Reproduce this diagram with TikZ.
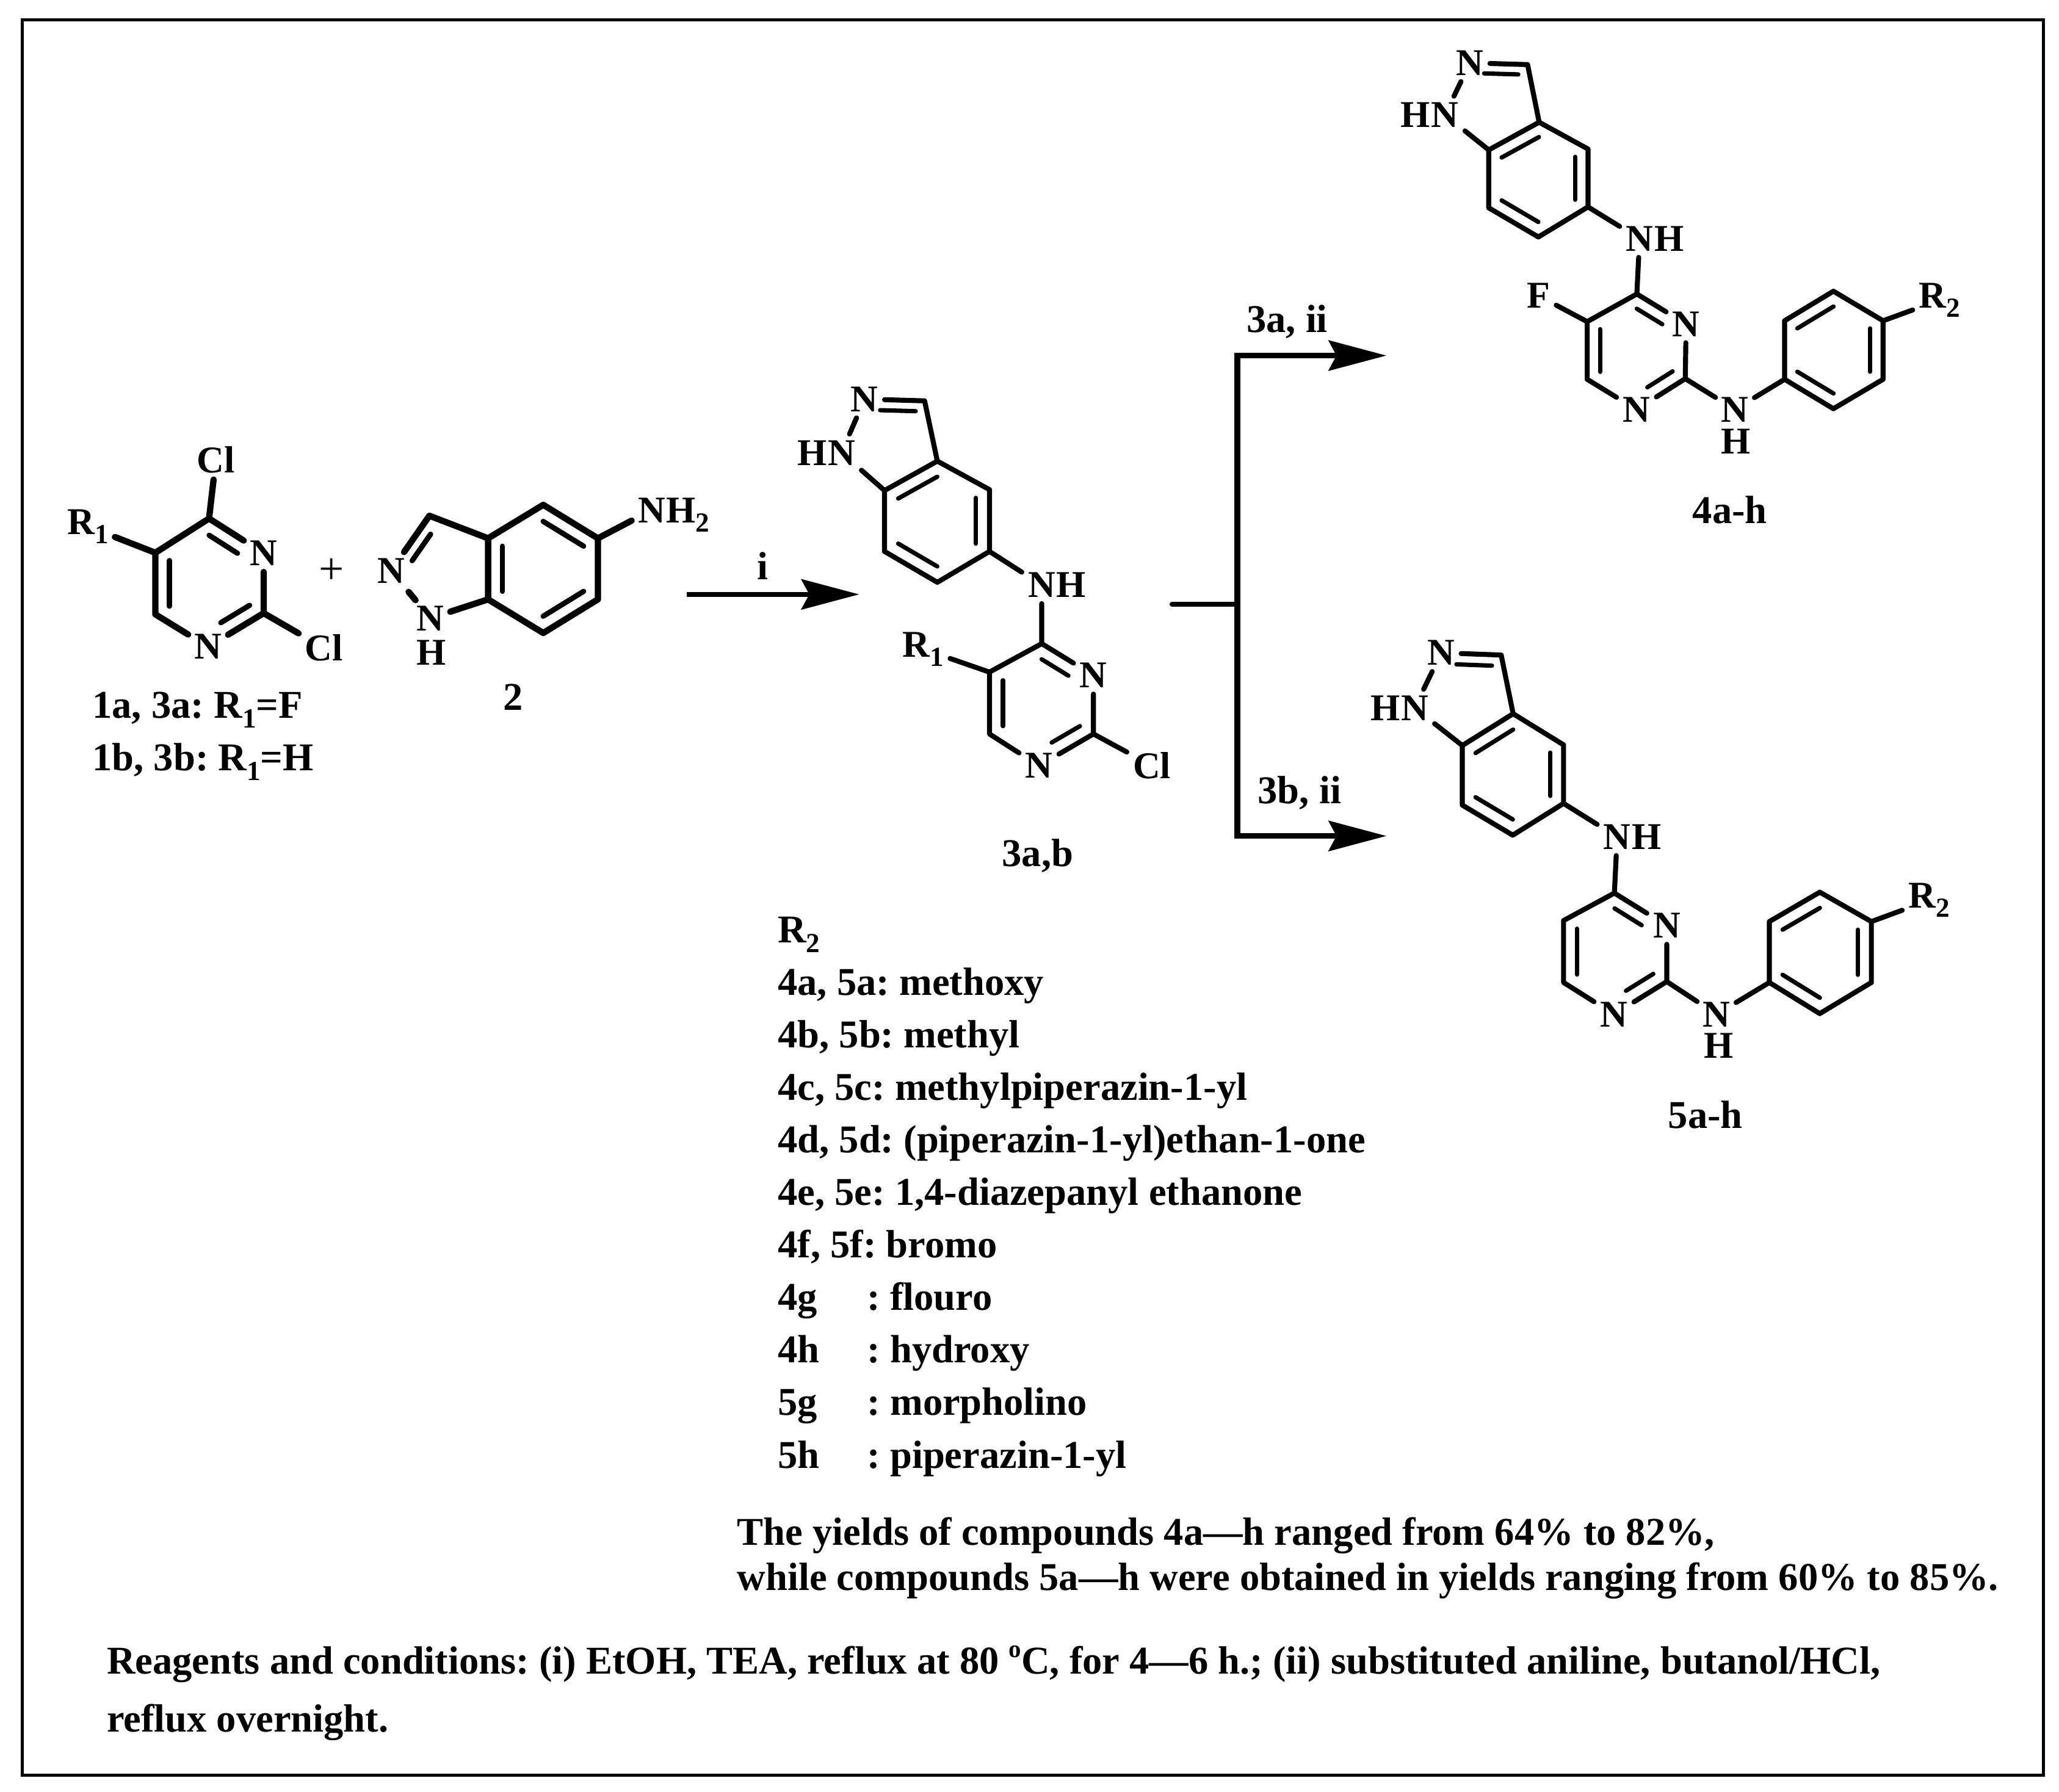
\documentclass[tikz,border=0pt]{standalone}
\usepackage{fontspec}
\setmainfont{Liberation Serif}
\usetikzlibrary{calc,arrows.meta}
\newcommand\lowtxt[1]{\raisebox{-0.24em}{\fontsize{10.5}{10.5}\selectfont #1}}
\newcommand\dbl[5]{\draw[bondi] ($($(#1)!.74!(#2)$)!#4!($(#1)!.74!(#3)$)$) -- ($($(#1)!.74!(#2)$)!#5!($(#1)!.74!(#3)$)$);}
\tikzset{
  atom/.style={font=\fontsize{14.4}{14.4}\selectfont\bfseries,inner sep=2.2pt,text=black},
  atomh/.style={atom,inner sep=0pt},
  atomt/.style={atom,inner sep=1pt},
  txt/.style={font=\fontsize{15}{15}\selectfont\bfseries\frenchspacing,inner sep=0pt,anchor=base west,text=black},
  lbl/.style={font=\fontsize{15}{15}\selectfont\bfseries\frenchspacing,inner sep=0pt,text=black},
  bond/.style={line width=1.9pt,line cap=round,line join=round,black},
  bondi/.style={line width=1.65pt,line cap=round,black},
  flow/.style={line width=2pt,black,-{Stealth[length=22pt,width=11.5pt,inset=3pt]}},
}
\begin{document}
\begin{tikzpicture}[x=0.5pt,y=-0.5pt]
\useasboundingbox (0,0) rectangle (1568,1364.4);
\fill[white] (0,0) rectangle (1568,1364.4);
\draw[line width=1.2pt,black] (17,15) rectangle (1556,1352);

\begin{scope}[bond/.style={line width=2.4pt,line cap=round,line join=round,black},
              bondi/.style={line width=2pt,line cap=round,black}]
% ---- compound 1
\coordinate (ac4) at (159.2,394.9);
\coordinate (ac5) at (118.3,421);
\coordinate (ac6) at (118.3,467.9);
\coordinate (ac2) at (200.8,467);
\coordinate (ar) at (159.5,444);
\node[atom] (an1) at (158.5,492.6) {N};
\node[atom] (an3) at (200.8,421.4) {N};
\node[atom] (acl1) at (164.4,350.3) {Cl};
\node[atom] (acl2) at (246.6,493.5) {Cl};
\node[atom,anchor=base west] (ar1) at (46.6,407) {R\lowtxt{1}};
\draw[bond] (ac4)--(an3) (an3)--(ac2) (ac2)--(an1) (an1)--(ac6)--(ac5)--(ac4);
\draw[bond] (ac4)--(acl1) (ac2)--(acl2) (ac5)--(ar1);
\dbl{ar}{ac4}{an3}{0}{.7}
\dbl{ar}{ac5}{ac6}{0}{1}
\dbl{ar}{ac2}{an1}{0}{.7}

\node[inner sep=0pt,font=\fontsize{17}{17}\selectfont] (plus) at (252.5,435) {+};

% ---- compound 2
\coordinate (bc3a) at (371.7,410);
\coordinate (bc4) at (413.7,384.5);
\coordinate (bc5) at (455.3,410);
\coordinate (bc6) at (455.3,456.5);
\coordinate (bc7) at (413.7,482.1);
\coordinate (bc7a) at (371.7,456.5);
\coordinate (bc3) at (327,392.8);
\coordinate (br) at (413.5,433);
\coordinate (bp) at (338.8,435);
\node[atom] (bn2) at (297.8,434.7) {N};
\node[atomt] (bn1) at (327.8,470.8) {N};
\node[atomh] (bh) at (328.7,497) {H};
\node[atom,anchor=base west] (bnh) at (481,398) {N};
\node[atomh,anchor=base west,xshift=-2.2pt] (bh2) at (bnh.base east) {H\lowtxt{2}};
\draw[bond] (bc3a)--(bc4)--(bc5)--(bc6)--(bc7)--(bc7a)--cycle;
\draw[bond] (bc3a)--(bc3)--(bn2);
\draw[bond,shorten <=1.2pt,shorten >=1.2pt] (bn2)--(bn1);
\draw[bond,shorten <=1.2pt] (bn1)--(bc7a);
\draw[bond] (bc5)--(bnh);
\dbl{br}{bc7a}{bc3a}{0}{1}
\dbl{br}{bc4}{bc5}{0}{1}
\dbl{br}{bc6}{bc7}{0}{1}
\dbl{bp}{bc3}{bn2}{.1}{.75}
\end{scope}

\node[lbl] (lab2) at (391,531) {2};
\node[txt] (lab1a) at (70,547) {1a, 3a: R\lowtxt{1}=F};
\node[txt] (lab1b) at (70,587) {1b, 3b: R\lowtxt{1}=H};

% ---- arrow i
\coordinate (ia) at (523,452.7);
\coordinate (ib) at (654.3,452.7);
\draw[flow] (ia)--(ib);
\node[lbl] (labi) at (581,431) {i};

% ---- compound 3
\coordinate (cc3) at (704.1,305.3);
\coordinate (cc3a) at (713.8,351.2);
\coordinate (cc4) at (753.5,372.9);
\coordinate (cc5) at (753.5,420);
\coordinate (cc6) at (713.8,443.5);
\coordinate (cc7) at (673.6,420);
\coordinate (cc7a) at (673.6,373.6);
\coordinate (cr) at (713.6,397);
\coordinate (cp) at (678,335.6);
\node[atom] (cn2) at (658.4,304) {N};
\node[atom] (cn1) at (640.8,344.8) {N};
\node[atomh,anchor=east,xshift=2.2pt] (chn) at (cn1.west) {H};
\node[atom] (cnh) at (793.3,445.5) {N};
\node[atomh,anchor=west,xshift=-2.2pt] (cnhh) at (cnh.east) {H};
\coordinate (dc4) at (793.3,490.2);
\coordinate (dc5) at (753.5,511.9);
\coordinate (dc6) at (753.5,559);
\coordinate (dc2) at (832.7,559);
\coordinate (dr) at (793,536);
\node[atom] (dn1) at (791.2,583.2) {N};
\node[atom] (dn3) at (832.7,514.4) {N};
\node[atom] (dcl) at (877.3,583.2) {Cl};
\node[atom,anchor=base west] (dr1) at (682.6,500.4) {R\lowtxt{1}};
\draw[bond] (cc3a)--(cc4)--(cc5)--(cc6)--(cc7)--(cc7a)--cycle;
\draw[bond] (cc3a)--(cc3)--(cn2) (cn2)--(cn1) (cn1)--(cc7a) (cc5)--(cnh) (cnh)--(dc4);
\draw[bond] (dc4)--(dn3) (dn3)--(dc2) (dc2)--(dn1) (dn1)--(dc6)--(dc5)--(dc4);
\draw[bond] (dc5)--(dr1) (dc2)--(dcl);
\dbl{cr}{cc7a}{cc3a}{0}{1}
\dbl{cr}{cc4}{cc5}{0}{1}
\dbl{cr}{cc6}{cc7}{0}{1}
\dbl{cp}{cn2}{cc3}{.2}{1}
\dbl{dr}{dc4}{dn3}{0}{.7}
\dbl{dr}{dc5}{dc6}{0}{1}
\dbl{dr}{dc2}{dn1}{0}{.7}
\node[lbl] (lab3) at (790.2,652) {3a,b};

% ---- branch
\coordinate (st) at (892.6,460.2);
\coordinate (jn) at (942.2,460.2);
\coordinate (jt) at (942.2,270.8);
\coordinate (jb) at (942.2,636.7);
\coordinate (at) at (1055.8,270.8);
\coordinate (ab) at (1055.8,636.7);
\draw[line width=2pt,line cap=round,black] (st)--(jn);
\draw[line width=2.2pt,black] ($(jt)+(0,-2)$)--($(jb)+(0,2)$);
\draw[flow] (jt)--(at);
\draw[flow] (jb)--(ab);
\node[lbl] (labt) at (980.2,245.2) {3a, ii};
\node[lbl] (labb) at (989.6,604) {3b, ii};

% ---- compound 4
\coordinate (ec3) at (1163.3,49.2);
\coordinate (ec3a) at (1172.1,93.1);
\coordinate (ec4) at (1209.3,113.5);
\coordinate (ec5) at (1209.3,157.6);
\coordinate (ec6) at (1171.5,180.5);
\coordinate (ec7) at (1133.7,158.3);
\coordinate (ec7a) at (1133.7,114.2);
\coordinate (er) at (1171.5,136.5);
\coordinate (ep) at (1136,78);
\node[atom] (en2) at (1119.4,47.9) {N};
\node[atom] (en1) at (1100.4,87.5) {N};
\node[atomh,anchor=east,xshift=2.2pt] (ehn) at (en1.west) {H};
\node[atom] (enh) at (1248.6,181.8) {N};
\node[atomh,anchor=west,xshift=-2.2pt] (enhh) at (enh.east) {H};
\coordinate (fc4) at (1246.5,223.9);
\coordinate (fc5) at (1208.7,245);
\coordinate (fc6) at (1208.7,288.9);
\coordinate (fc2) at (1283.4,288.4);
\coordinate (fr) at (1246.3,267);
\node[atom] (fn1) at (1246.2,311.9) {N};
\node[atom] (fn3) at (1284,246.8) {N};
\node[atom] (ff) at (1171.5,225.2) {F};
\node[atomt] (fnh) at (1321.2,311.9) {N};
\node[atomh] (fnhh) at (1322.1,336) {H};
\coordinate (gc1) at (1359,288.9);
\coordinate (gc2) at (1359,244.3);
\coordinate (gc3) at (1396.2,221.8);
\coordinate (gc4) at (1434,244.3);
\coordinate (gc5) at (1434,288.9);
\coordinate (gc6) at (1396.2,311.3);
\coordinate (gr) at (1396.4,266.6);
\node[atom,anchor=base west] (gr2) at (1456.6,234.6) {R\lowtxt{2}};
\draw[bond] (ec3a)--(ec4)--(ec5)--(ec6)--(ec7)--(ec7a)--cycle;
\draw[bond] (ec3a)--(ec3)--(en2) (en2)--(en1) (en1)--(ec7a) (ec5)--(enh) (enh)--(fc4);
\draw[bond] (fc4)--(fn3) (fn3)--(fc2) (fc2)--(fn1) (fn1)--(fc6)--(fc5)--(fc4);
\draw[bond] (fc5)--(ff);
\draw[bond,shorten >=1.2pt] (fc2)--(fnh);
\draw[bond,shorten <=1.2pt] (fnh)--(gc1);
\draw[bond] (gc1)--(gc2)--(gc3)--(gc4)--(gc5)--(gc6)--cycle (gc4)--(gr2);
\dbl{er}{ec7a}{ec3a}{0}{1}
\dbl{er}{ec4}{ec5}{0}{1}
\dbl{er}{ec6}{ec7}{0}{1}
\dbl{ep}{en2}{ec3}{.2}{1}
\dbl{fr}{fc4}{fn3}{0}{.7}
\dbl{fr}{fc5}{fc6}{0}{1}
\dbl{fr}{fc2}{fn1}{0}{.7}
\dbl{gr}{gc2}{gc3}{0}{1}
\dbl{gr}{gc4}{gc5}{0}{1}
\dbl{gr}{gc6}{gc1}{0}{1}
\node[lbl] (lab4) at (1317.3,388.4) {4a-h};

% ---- compound 5
\coordinate (hc3) at (1143.2,498.9);
\coordinate (hc3a) at (1152.3,543.6);
\coordinate (hc4) at (1190.7,567.3);
\coordinate (hc5) at (1190.7,611.9);
\coordinate (hc6) at (1152,636.1);
\coordinate (hc7) at (1113.6,613.2);
\coordinate (hc7a) at (1113.6,567.8);
\coordinate (hr) at (1152.2,590);
\coordinate (hp) at (1116,530);
\node[atom] (hn2) at (1097.5,497.2) {N};
\node[atom] (hn1) at (1077.3,539.2) {N};
\node[atomh,anchor=east,xshift=2.2pt] (hhn) at (hn1.west) {H};
\node[atom] (hnh) at (1231.5,637.4) {N};
\node[atomh,anchor=west,xshift=-2.2pt] (hnhh) at (hnh.east) {H};
\coordinate (jc4) at (1229.4,680.2);
\coordinate (jc5) at (1190.7,701.1);
\coordinate (jc6) at (1190.7,748.3);
\coordinate (jc2) at (1269.3,747.6);
\coordinate (jr) at (1229.8,725);
\node[atom] (jn1) at (1229.1,772.5) {N};
\node[atom] (jn3) at (1269.3,705) {N};
\node[atomt] (jnh) at (1307.2,772.5) {N};
\node[atomh] (jnhh) at (1308.7,796.5) {H};
\coordinate (kc1) at (1347.4,748.3);
\coordinate (kc2) at (1347.4,701.9);
\coordinate (kc3) at (1385.8,679.5);
\coordinate (kc4) at (1425.1,701.9);
\coordinate (kc5) at (1425.1,748.3);
\coordinate (kc6) at (1385.8,772);
\coordinate (kr) at (1386.2,725.7);
\node[atom,anchor=base west] (kr2) at (1448.6,691.7) {R\lowtxt{2}};
\draw[bond] (hc3a)--(hc4)--(hc5)--(hc6)--(hc7)--(hc7a)--cycle;
\draw[bond] (hc3a)--(hc3)--(hn2) (hn2)--(hn1) (hn1)--(hc7a) (hc5)--(hnh) (hnh)--(jc4);
\draw[bond] (jc4)--(jn3) (jn3)--(jc2) (jc2)--(jn1) (jn1)--(jc6)--(jc5)--(jc4);
\draw[bond,shorten >=1.2pt] (jc2)--(jnh);
\draw[bond,shorten <=1.2pt] (jnh)--(kc1);
\draw[bond] (kc1)--(kc2)--(kc3)--(kc4)--(kc5)--(kc6)--cycle (kc4)--(kr2);
\dbl{hr}{hc7a}{hc3a}{0}{1}
\dbl{hr}{hc4}{hc5}{0}{1}
\dbl{hr}{hc6}{hc7}{0}{1}
\dbl{hp}{hn2}{hc3}{.2}{1}
\dbl{jr}{jc4}{jn3}{0}{.7}
\dbl{jr}{jc5}{jc6}{0}{1}
\dbl{jr}{jc2}{jn1}{0}{.7}
\dbl{kr}{kc2}{kc3}{0}{1}
\dbl{kr}{kc4}{kc5}{0}{1}
\dbl{kr}{kc6}{kc1}{0}{1}
\node[lbl] (lab5) at (1298.7,849) {5a-h};

% ---- R2 list
\node[txt] (l0) at (592,718) {R\lowtxt{2}};
\node[txt] (l1) at (592,758) {4a, 5a: methoxy};
\node[txt] (l2) at (592,798) {4b, 5b: methyl};
\node[txt] (l3) at (592,838) {4c, 5c: methylpiperazin-1-yl};
\node[txt] (l4) at (592,878) {4d, 5d: (piperazin-1-yl)ethan-1-one};
\node[txt] (l5) at (592,918) {4e, 5e: 1,4-diazepanyl ethanone};
\node[txt] (l6) at (592,958) {4f, 5f: bromo};
\node[txt] (l7) at (592,998) {4g};
\node[txt] (l7b) at (660,998) {: flouro};
\node[txt] (l8) at (592,1038) {4h};
\node[txt] (l8b) at (660,1038) {: hydroxy};
\node[txt] (l9) at (592,1078) {5g};
\node[txt] (l9b) at (660,1078) {: morpholino};
\node[txt] (l10) at (592,1118) {5h};
\node[txt] (l10b) at (660,1118) {: piperazin-1-yl};

\node[txt] (y1) at (561,1177) {The yields of compounds 4a—h ranged from 64\% to 82\%,};
\node[txt] (y2) at (561,1211) {while compounds 5a—h were obtained in yields ranging from 60\% to 85\%.};
\node[txt] (r1) at (81,1275) {Reagents and conditions: (i) EtOH, TEA, reflux at 80 \raisebox{.42em}{\fontsize{9.5}{9.5}\selectfont o}C, for 4—6 h.; (ii) substituted aniline, butanol/HCl,};
\node[txt] (r2) at (81,1319) {reflux overnight.};
\end{tikzpicture}
\end{document}
